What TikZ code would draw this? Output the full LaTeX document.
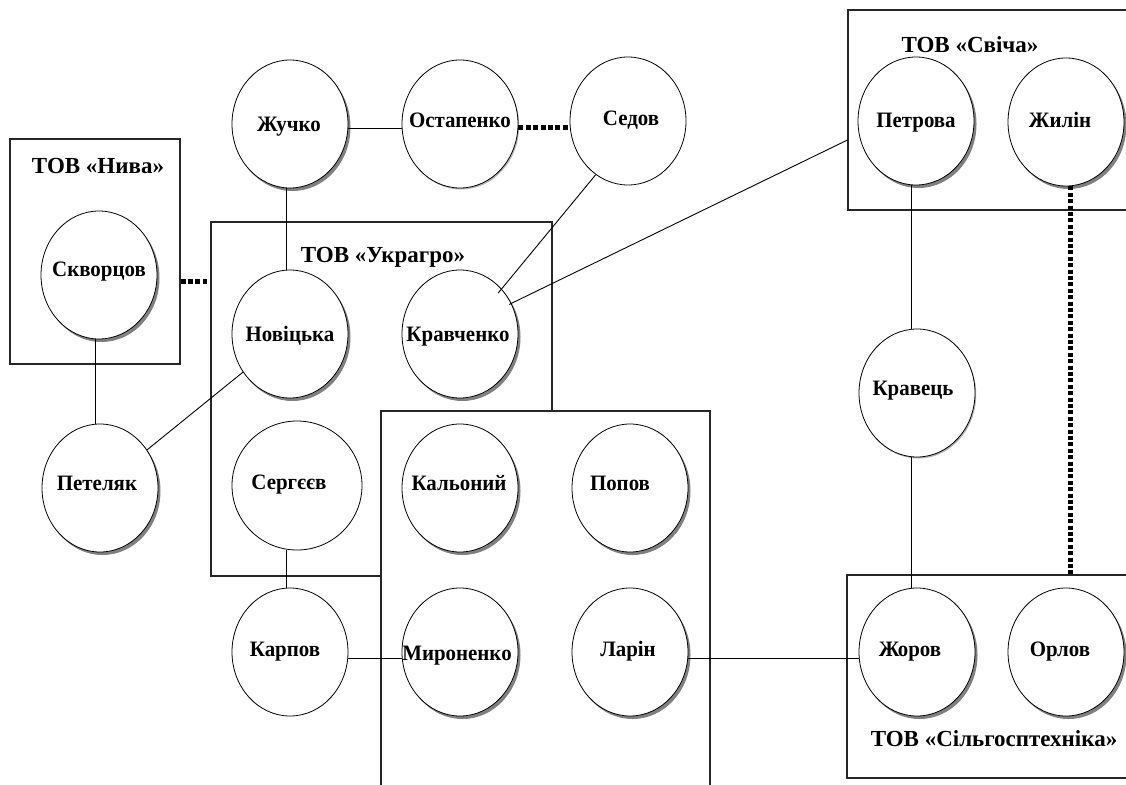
\documentclass[tikz,border=0pt]{standalone}
\usepackage{fontspec}
\setmainfont{Liberation Serif}
\newfontfamily\namefont[FakeStretch=0.95]{Liberation Serif}
\usetikzlibrary{shapes.geometric,shadows,calc}
\begin{document}
\begin{tikzpicture}[x=1pt,y=-1pt,
  person/.style={ellipse, draw, line width=0.8pt, fill=white, minimum width=116pt, minimum height=128pt, inner sep=0pt},
  shad/.style={drop shadow={shadow xshift=2.5pt, shadow yshift=-3pt, fill=black!50, opacity=1}},
  lightshad/.style={drop shadow={shadow xshift=1.2pt, shadow yshift=-1.5pt, fill=black!30, opacity=1}},
  lbl/.style={font=\namefont\bfseries\fontsize{22}{26}\selectfont, inner sep=0pt, text height=14.5pt, text depth=0pt},
  firm/.style={draw=black!85, line width=1.1pt, rectangle, inner sep=0pt},
  firmlbl/.style={font=\fontsize{23}{27}\selectfont\bfseries, inner sep=0pt, text height=15pt, text depth=0pt},
  link/.style={line width=0.9pt},
  hdots/.style={line width=5pt, dash pattern=on 5pt off 2.4pt},
  vdots/.style={line width=5pt, dash pattern=on 4pt off 2.4pt}]
\useasboundingbox[fill=white] (0,0) rectangle (1126,784);

% firms
\node[firm, minimum width=341pt, minimum height=354pt] (ukragro) at (381.5,399) {};
\node[firm, fill=white, minimum width=329pt, minimum height=385pt] (mirobox) at (545.5,603.5) {};
\node[firm, minimum width=170pt, minimum height=225pt] (niva) at (95,251.5) {};
\node[firm, minimum width=284pt, minimum height=200pt] (svicha) at (990,110) {};
\node[firm, minimum width=285pt, minimum height=203pt] (silgosp) at (989.5,676.5) {};

\node[firmlbl] (nivalbl) at (98,166) {ТОВ «Нива»};
\node[firmlbl] (ukrlbl) at (383,255) {ТОВ «Украгро»};
\node[firmlbl] (svlbl) at (970,45) {ТОВ «Свіча»};
\node[firmlbl] (silbl) at (994,739) {ТОВ «Сільгосптехніка»};

% persons
\node[person, shad, label={[lbl,xshift=-1pt]center:Жучко}] (zhuchko) at (290,124) {};
\node[person, lightshad, label={[lbl,yshift=4pt]center:Остапенко}] (ostapenko) at (460,124) {};
\node[person, label={[lbl,xshift=3pt,yshift=3pt]center:Седов}] (sedov) at (628,121) {};
\node[person, shad, label={[lbl,yshift=6pt]center:Скворцов}] (skvortsov) at (99,275) {};
\node[person, shad, label={[lbl]center:Новіцька}] (novitska) at (290,334) {};
\node[person, shad, label={[lbl,xshift=-2pt]center:Кравченко}] (kravchenko) at (460,334) {};
\node[person, shad, label={[lbl,xshift=-3pt,yshift=5pt]center:Петеляк}] (petelyak) at (100,488) {};
\node[person, minimum width=130pt, minimum height=129pt, label={[lbl,xshift=-8pt,yshift=3pt]center:Сергєєв}] (sergeev) at (297,485.5) {};
\node[person, shad, label={[lbl,xshift=-1pt,yshift=5pt]center:Кальоний}] (kalonyi) at (460,488) {};
\node[person, shad, label={[lbl,xshift=-10pt,yshift=5pt]center:Попов}] (popov) at (630,488) {};
\node[person, label={[lbl,xshift=-5pt,yshift=3pt]center:Карпов}] (karpov) at (290,652) {};
\node[person, shad, label={[lbl,xshift=-3pt,yshift=-1pt]center:Мироненко}] (mironenko) at (460,652) {};
\node[person, shad, label={[lbl,xshift=-2pt,yshift=3pt]center:Ларін}] (larin) at (630,652) {};
\node[person, shad, label={[lbl,yshift=1pt]center:Петрова}] (petrova) at (916,121) {};
\node[person, shad, label={[lbl,xshift=-6pt,yshift=2pt]center:Жилін}] (zhilin) at (1066,122) {};
\node[person, lightshad, label={[lbl,xshift=-4pt,yshift=5pt]center:Кравець}] (kravets) at (917,393) {};
\node[person, shad, label={[lbl,xshift=-7pt,yshift=3pt]center:Жоров}] (zhorov) at (917,652) {};
\node[person, shad, label={[lbl,xshift=-6pt,yshift=3pt]center:Орлов}] (orlov) at (1066,652) {};

% connectors
\draw[link] ([yshift=-4pt]zhuchko.east) -- ([yshift=-4pt]zhuchko.east -| ostapenko.west);
\draw[hdots] ([yshift=-3pt]ostapenko.east) -- ([yshift=-3pt]ostapenko.east -| sedov.west);
\draw[link] ([xshift=-4pt]zhuchko.south) -- ([xshift=-4pt]zhuchko.south |- novitska.north);
\draw[link] ([xshift=-4pt]skvortsov.south) -- ([xshift=-4pt]skvortsov.south |- petelyak.north);
\draw[hdots] (niva.east |- 0,281) -- ([xshift=-3pt]ukragro.west |- 0,281);
\draw[link] (novitska) -- (petelyak);
\draw[link] (sedov.239) -- ($(kravchenko.center)!0.91!(kravchenko.47)$);
\draw[link] ([yshift=-30pt]svicha.west) -- ($(kravchenko.center)!0.96!(kravchenko.31)$);
\draw[link] ([xshift=-5pt]petrova.south) -- ([xshift=-5pt]petrova.south |- kravets.north);
\draw[link] ([xshift=-6pt]kravets.south) -- ([xshift=-6pt]kravets.south |- zhorov.north);
\draw[vdots] ([xshift=4pt]zhilin.south) -- ([xshift=4pt]zhilin.south |- silgosp.north);
\draw[link] ([xshift=-4pt]karpov.north) -- ([xshift=-4pt]karpov.north |- sergeev.south);
\draw[link] ([yshift=-6pt]karpov.east) -- ([yshift=-6pt]karpov.east -| mironenko.west);
\draw[link] ([yshift=-6pt]larin.east) -- ([yshift=-6pt]larin.east -| zhorov.west);
\end{tikzpicture}
\end{document}
